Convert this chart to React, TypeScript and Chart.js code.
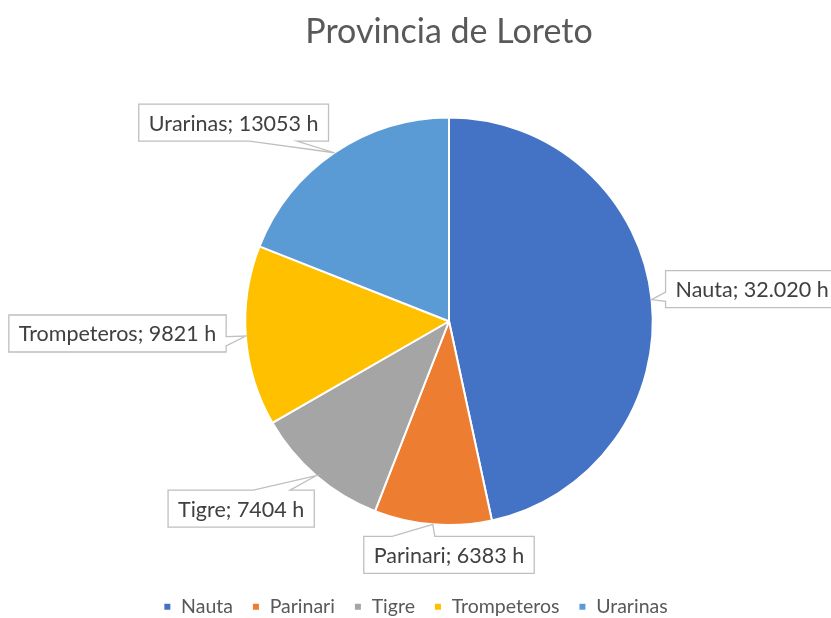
import { useEffect, useRef } from "react";
import { Chart, registerables } from "chart.js";

Chart.register(...registerables);

// Horas por provincia
const provinces = ["Nauta", "Parinari", "Tigre", "Trompeteros", "Urarinas"];
const hours = [32020, 6383, 7404, 9821, 13053];
const hourLabels = ["32.020", "6383", "7404", "9821", "13053"];
const sliceColors = ["#4472C4", "#ED7D31", "#A5A5A5", "#FFC000", "#5B9BD5"];

// Callout box centres, measured in pie radii from the pie centre
const calloutOffsets: [number, number][] = [
  [1.488, -0.158],
  [0.0, 1.147],
  [-1.02, 0.92],
  [-1.627, 0.06],
  [-1.057, -0.975],
];

const FONT = "Lato, 'Open Sans', sans-serif";

const calloutPlugin = {
  id: "callouts",
  afterDatasetsDraw(chart: any) {
    const ctx: CanvasRenderingContext2D = chart.ctx;
    const meta = chart.getDatasetMeta(0);
    ctx.save();
    ctx.font = `21.5px ${FONT}`;
    meta.data.forEach((arc: any, i: number) => {
      const { x, y, startAngle, endAngle, outerRadius } = arc.getProps(
        ["x", "y", "startAngle", "endAngle", "outerRadius"],
        true
      );
      const mid = (startAngle + endAngle) / 2;
      const tx = x + Math.cos(mid) * outerRadius;
      const ty = y + Math.sin(mid) * outerRadius;

      const text = `${provinces[i]}; ${hourLabels[i]} h`;
      const w = ctx.measureText(text).width + 20;
      const h = 37;
      const cx = x + calloutOffsets[i][0] * outerRadius;
      const cy = y + calloutOffsets[i][1] * outerRadius;
      const l = cx - w / 2;
      const t = cy - h / 2;
      const r = l + w;
      const b = t + h;

      // rectangular callout with a wedge pointing at the slice
      const dx = tx - cx;
      const dy = ty - cy;
      const horizontalSide = Math.abs(dx) * h > Math.abs(dy) * w;
      const side = horizontalSide ? (dx > 0 ? "right" : "left") : dy > 0 ? "bottom" : "top";
      const fx = dx > 0 ? [7 / 12, 10 / 12] : [2 / 12, 5 / 12];
      const fy = dy > 0 ? [7 / 12, 10 / 12] : [2 / 12, 5 / 12];

      ctx.beginPath();
      ctx.moveTo(l, t);
      if (side === "top") {
        ctx.lineTo(l + fx[0] * w, t);
        ctx.lineTo(tx, ty);
        ctx.lineTo(l + fx[1] * w, t);
      }
      ctx.lineTo(r, t);
      if (side === "right") {
        ctx.lineTo(r, t + fy[0] * h);
        ctx.lineTo(tx, ty);
        ctx.lineTo(r, t + fy[1] * h);
      }
      ctx.lineTo(r, b);
      if (side === "bottom") {
        ctx.lineTo(l + fx[1] * w, b);
        ctx.lineTo(tx, ty);
        ctx.lineTo(l + fx[0] * w, b);
      }
      ctx.lineTo(l, b);
      if (side === "left") {
        ctx.lineTo(l, t + fy[1] * h);
        ctx.lineTo(tx, ty);
        ctx.lineTo(l, t + fy[0] * h);
      }
      ctx.closePath();
      ctx.fillStyle = "#ffffff";
      ctx.fill();
      ctx.lineWidth = 1.3;
      ctx.strokeStyle = "#bfbfbf";
      ctx.lineJoin = "miter";
      ctx.stroke();

      ctx.fillStyle = "#404040";
      ctx.textAlign = "center";
      ctx.textBaseline = "middle";
      ctx.fillText(text, cx, cy + 1);
    });
    ctx.restore();
  },
};

// keeps the legend centred on the full canvas while the pie sits right of centre
const legendSpanPlugin = {
  id: "legendSpan",
  afterLayout(chart: any) {
    const lg = chart.legend;
    if (lg) {
      lg.left = 0;
      lg.right = chart.width;
      lg.width = chart.width;
    }
  },
};

export default function App() {
  const canvasRef = useRef<HTMLCanvasElement | null>(null);

  useEffect(() => {
    if (!canvasRef.current) return;
    const chart = new Chart(canvasRef.current, {
      type: "pie",
      data: {
        labels: provinces,
        datasets: [
          {
            data: hours,
            backgroundColor: sliceColors,
            borderColor: "#ffffff",
            borderWidth: 2,
          },
        ],
      },
      options: {
        responsive: false,
        animation: false,
        layout: { padding: { left: 67, right: 0, top: 0, bottom: -8.5 } },
        plugins: {
          title: {
            display: true,
            text: "Provincia de Loreto",
            color: "#595959",
            font: { family: FONT, size: 34, weight: "normal", lineHeight: 1.2 },
            padding: { top: 11.6, bottom: 64.1 },
          },
          legend: {
            position: "bottom",
            title: {
              display: true,
              text: "",
              font: { size: 10, lineHeight: 1.2 },
              padding: { top: 40, bottom: 0 },
            },
            labels: {
              boxWidth: 8,
              boxHeight: 8,
              padding: 19,
              color: "#595959",
              font: { family: FONT, size: 19.5 },
            },
          },
          tooltip: { enabled: false },
        },
      },
      plugins: [calloutPlugin, legendSpanPlugin],
    });
    return () => chart.destroy();
  }, []);

  return (
    <div style={{ position: "absolute", left: 0, top: 0, width: 831, height: 618, background: "#ffffff" }}>
      <canvas ref={canvasRef} width={831} height={618} />
    </div>
  );
}
